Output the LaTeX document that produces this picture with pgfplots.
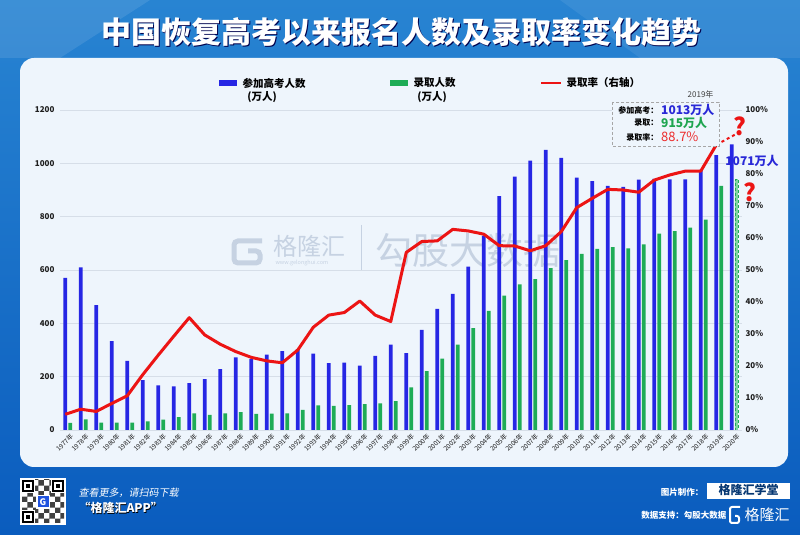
\documentclass[border=0pt]{standalone}
\usepackage{fontspec}
\setmainfont{Noto Sans CJK SC}
\newfontfamily\slantcjk{Noto Sans CJK SC}[FakeSlant=0.2]
\usepackage{pgfplots}
\pgfplotsset{compat=1.18}
\usepackage{pgfplotstable}
\usetikzlibrary{patterns}

\definecolor{bgtop}{RGB}{40,132,210}
\definecolor{bgbot}{RGB}{10,92,190}
\definecolor{card}{RGB}{238,245,252}
\definecolor{barblue}{RGB}{38,38,228}
\definecolor{bargreen}{RGB}{30,172,86}
\definecolor{linered}{RGB}{236,20,20}
\definecolor{gridc}{RGB}{214,222,232}
\definecolor{wm}{RGB}{198,210,226}
\definecolor{tickc}{RGB}{30,30,30}
\definecolor{numblue}{RGB}{40,40,215}
\definecolor{numgreen}{RGB}{30,165,80}
\definecolor{numred}{RGB}{236,45,45}

% applicants / admitted in 10k persons, admission rate in %
\pgfplotstableread{
year apply admit rate
1977 570 27 4.9
1978 610 40 6.5
1979 468 28 5.8
1980 333 28 8.3
1981 259 28 10.7
1982 187 32 17.3
1983 167 39 23.4
1984 164 48 29.3
1985 176 62 35.1
1986 191 57 29.7
1987 228 62 26.8
1988 272 67 24.5
1989 266 60 22.7
1990 283 61 21.6
1991 296 62 21.0
1992 303 75 25.0
1993 286 92 32.1
1994 251 90 35.9
1995 253 93 36.7
1996 241 97 40.3
1997 278 100 35.9
1998 320 108 33.9
1999 288 160 55.5
2000 375 221 58.9
2001 454 268 59.1
2002 510 320 62.7
2003 613 382 62.2
2004 729 447 61.2
2005 877 504 57.6
2006 950 546 57.5
2007 1010 566 56.0
2008 1050 607 57.6
2009 1020 637 62.0
2010 946 660 69.5
2011 933 679 72.4
2012 915 686 75.2
2013 912 681 75.0
2014 939 696 74.3
2015 942 736 78.1
2016 940 746 79.7
2017 940 759 80.9
2018 975 789 80.9
2019 1031 915 89.1
2020 1071 940 nan
}\gaokao

\begin{document}
\begin{tikzpicture}
\begin{scope}[x=1pt,y=1pt]
% background
\shade[top color=bgtop, bottom color=bgbot] (0,0) rectangle (800,535);
\fill[white, opacity=0.10] (0,535) -- (150,535) -- (60,477) -- (0,477) -- cycle;
\fill[white, opacity=0.08] (560,535) -- (800,535) -- (800,477) -- (640,477) -- cycle;
\fill[card, rounded corners=14pt] (20,68) rectangle (788,477);

% title
\node[text=black!70!blue, font=\bfseries\fontsize{30}{32}\selectfont] at (402.5,501.5) {中国恢复高考以来报名人数及录取率变化趋势};
\node[text=white, font=\bfseries\fontsize{30}{32}\selectfont] at (401,503) {中国恢复高考以来报名人数及录取率变化趋势};

% watermark
\draw[wm, line width=5pt, rounded corners=4pt] (262,294) -- (234,294) -- (234,272) -- (260,272) -- (260,284) -- (248,284);
\node[text=wm, font=\fontsize{24}{26}\selectfont, anchor=west] at (270,289) {格隆汇};
\node[text=wm, font=\fontsize{5.5}{6}\selectfont, anchor=west] at (272,272) {www.gelonghui.com};
\draw[wm, line width=0.8pt] (361,310) -- (361,265);
\node[text=wm, font=\fontsize{37}{39}\selectfont, anchor=west] at (372,285) {勾股大数据};
\end{scope}

% left axis: bars
\begin{axis}[
  at={(60pt,105pt)}, anchor=south west, scale only axis,
  width=682pt, height=320pt,
  xmin=1976.5, xmax=2020.5, ymin=0, ymax=1200,
  xtick={1977,...,2020}, ytick={0,200,...,1200},
  axis line style={draw=none}, major tick length=0pt,
  ymajorgrids, grid style={gridc, line width=0.8pt},
  /pgf/number format/1000 sep={},
  /pgf/number format/assume math mode=true,
  xticklabel={\pgfmathprintnumber{\tick}年},
  xticklabel style={rotate=45, anchor=north east, font=\fontsize{6.5}{7}\selectfont, text=tickc, inner sep=0.5pt, yshift=-3pt},
  yticklabel style={font=\bfseries\fontsize{8}{9}\selectfont, text=tickc, xshift=-2pt},
  ybar, bar width=3.6pt,
]
\addplot[draw=none, fill=barblue, bar shift=-2.5pt] table[x=year, y=apply]{\gaokao};
\addplot[draw=none, fill=bargreen, bar shift=2.5pt, restrict x to domain=1977:2019] table[x=year, y=admit]{\gaokao};
\addplot[draw=bargreen, densely dashed, line width=0.6pt, fill=bargreen!55, bar shift=2.5pt, bar width=3pt] coordinates {(2020,940)};
\end{axis}

% right axis: admission rate
\begin{axis}[
  at={(60pt,105pt)}, anchor=south west, scale only axis,
  width=682pt, height=320pt,
  xmin=1976.5, xmax=2020.5, ymin=0, ymax=100,
  axis x line=none, axis y line*=right,
  axis line style={draw=none}, major tick length=0pt,
  ytick={0,10,...,100},
  /pgf/number format/assume math mode=true,
  yticklabel={\pgfmathprintnumber{\tick}\%},
  yticklabel style={font=\bfseries\fontsize{8}{9}\selectfont, text=tickc, xshift=0pt},
]
\addplot[linered, line width=3pt, line join=round, no marks, restrict x to domain=1976:2019.5] table[x expr=\thisrow{year}-0.16, y=rate]{\gaokao};
\addplot[linered, line width=2pt, dashed, no marks] coordinates {(2018.84,89.1) (2020.2,92.7)};
\end{axis}

\begin{scope}[x=1pt,y=1pt]
% legend
\fill[barblue] (219,449) rectangle (237,455);
\node[anchor=west, font=\bfseries\fontsize{10.5}{12}\selectfont] at (239,452) {参加高考人数};
\node[font=\bfseries\fontsize{10.5}{12}\selectfont] at (262,438) {(万人)};
\fill[bargreen] (390,449) rectangle (408,455);
\node[anchor=west, font=\bfseries\fontsize{10.5}{12}\selectfont] at (410,452) {录取人数};
\node[font=\bfseries\fontsize{10.5}{12}\selectfont] at (432,438) {(万人)};
\draw[linered, line width=2.5pt] (541,452) -- (561,452);
\node[anchor=west, font=\bfseries\fontsize{10.5}{12}\selectfont] at (563,452) {录取率（右轴）};

% 2019 annotation
\node[anchor=east, font=\fontsize{8}{9}\selectfont, text=black!75] at (717,441) {2019年};
\draw[gray!70, densely dashed, fill=card] (612,433) rectangle (719,389);
\node[anchor=east, font=\bfseries\fontsize{8}{9}\selectfont] at (662,425) {参加高考：};
\node[anchor=west, font=\bfseries\fontsize{12}{13}\selectfont, text=numblue, inner xsep=0pt] at (661,425) {1013万人};
\node[anchor=east, font=\bfseries\fontsize{8}{9}\selectfont] at (662,412) {录取：};
\node[anchor=west, font=\bfseries\fontsize{12}{13}\selectfont, text=numgreen, inner xsep=0pt] at (661,412) {915万人};
\node[anchor=east, font=\bfseries\fontsize{8}{9}\selectfont] at (662,398) {录取率：};
\node[anchor=west, font=\fontsize{13}{14}\selectfont, text=numred, inner xsep=0pt] at (661,398) {88.7\%};
\node[font=\bfseries\fontsize{12}{13}\selectfont, text=numblue] at (752,374) {1071万人};
\node[font=\bfseries\fontsize{24}{26}\selectfont, text=linered] at (740,409) {?};
\node[font=\bfseries\fontsize{24}{26}\selectfont, text=linered] at (750,343) {?};

% footer
\fill[white] (20,10) rectangle (66,57);
\fill[pattern=checkerboard, pattern color=black!75] (22,12) rectangle (64,55);
\foreach \qx/\qy in {22/43, 52/43, 22/12} {
  \fill[white] (\qx-1,\qy-1) rectangle (\qx+13,\qy+13);
  \fill[black] (\qx,\qy) rectangle (\qx+12,\qy+12);
  \fill[white] (\qx+2,\qy+2) rectangle (\qx+10,\qy+10);
  \fill[black] (\qx+4,\qy+4) rectangle (\qx+8,\qy+8);
}
\fill[white] (36,26) rectangle (50,40);
\fill[numblue!80!cyan] (37.5,27.5) rectangle (48.5,38.5);
\node[text=white, font=\bfseries\fontsize{9}{9}\selectfont] at (43,33) {G};
\node[anchor=west, text=white, font=\slantcjk\fontsize{10}{11}\selectfont] at (75,42) {查看更多，请扫码下载};
\node[anchor=west, text=black, font=\bfseries\fontsize{12}{13}\selectfont] at (75.6,26.4) {“格隆汇APP”};
\node[anchor=west, text=white, font=\bfseries\fontsize{12}{13}\selectfont] at (75,27) {“格隆汇APP”};
\node[anchor=east, text=white, font=\bfseries\fontsize{8.5}{9}\selectfont] at (707,43) {图片制作：};
\fill[white] (707,36) rectangle (790,52);
\node[text=bgbot!60!black, font=\bfseries\fontsize{12}{13}\selectfont] at (748.5,45) {格隆汇学堂};
\node[anchor=east, text=white, font=\bfseries\fontsize{8.5}{9}\selectfont] at (730,20) {数据支持：勾股大数据};
\draw[white, line width=2pt, rounded corners=2pt] (740,28) -- (730,28) -- (730,12) -- (739,12) -- (739,19) -- (735,19);
\node[anchor=west, text=white, font=\fontsize{15}{16}\selectfont] at (741,20) {格隆汇};
\end{scope}
\end{tikzpicture}
\end{document}
